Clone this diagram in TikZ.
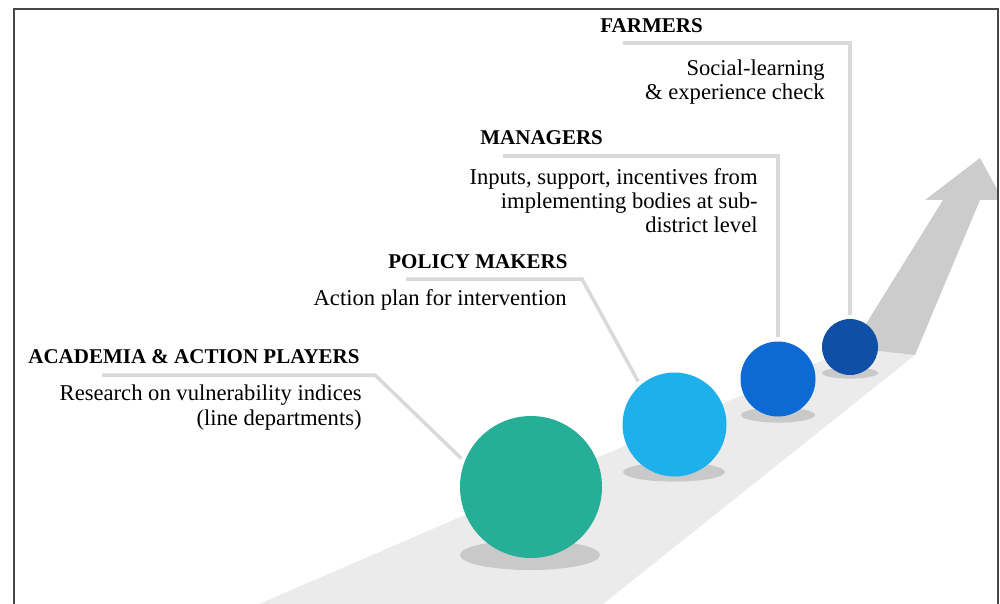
\documentclass[tikz,border=0pt]{standalone}
\usepackage{fontspec}
\setmainfont{Liberation Serif}
\definecolor{band}{RGB}{235,235,235}
\definecolor{arrowgray}{RGB}{204,204,204}
\definecolor{shadowgray}{RGB}{201,201,201}
\definecolor{linkgray}{RGB}{217,217,217}
\definecolor{framegray}{RGB}{70,70,70}
\definecolor{academia}{RGB}{39,174,150}
\definecolor{policy}{RGB}{29,176,234}
\definecolor{managers}{RGB}{11,106,212}
\definecolor{farmers}{RGB}{16,79,166}
\begin{document}
\begin{tikzpicture}[x=0.5pt,y=-0.5pt,
		ball/.style={circle,inner sep=0pt},
		link/.style={draw=linkgray,line width=1.75pt,shorten >=2pt},
		title/.style={font=\fontsize{10.5}{12.4}\selectfont\bfseries,inner sep=0pt,anchor=base west},
		desc/.style={font=\fontsize{11.3}{12.2}\selectfont,inner sep=0pt,align=right,anchor=base east}
		]
		\useasboundingbox (0,0) rectangle (1000,604);
		
		\fill[band] (259,604) -- (851,348) -- (915,355) -- (603,604) -- cycle;
		\begin{scope}
			\clip (14,9) rectangle (998,604);
			\fill[arrowgray] (851,348) -- (915,355) -- (980,200) -- (1003,200)
			-- (980,158) -- (925,200) -- (943,200) -- cycle;
		\end{scope}
		
		\fill[shadowgray] (530,555) ellipse [x radius=35pt, y radius=7.5pt];
		\fill[shadowgray] (674,472) ellipse [x radius=25.5pt, y radius=4.8pt];
		\fill[shadowgray] (778,415) ellipse [x radius=18.5pt, y radius=3.8pt];
		\fill[shadowgray] (850,373) ellipse [x radius=14pt, y radius=2.8pt];
		
		\node[ball,fill=academia,minimum size=71pt] (aball) at (531,487) {};
		\node[ball,fill=policy,minimum size=52pt] (pball) at (674.5,424.5) {};
		\node[ball,fill=managers,minimum size=37.5pt] (mball) at (778,379) {};
		\node[ball,fill=farmers,minimum size=28pt] (fball) at (850,347) {};
		
		\node[title] (atitle) at (28,363) {ACADEMIA \& ACTION PLAYERS};
		\node[desc] (adesc) at (362,425) {Research on vulnerability indices\\(line departments)};
		\node[title] (ptitle) at (388,268) {POLICY MAKERS};
		\node[desc] (pdesc) at (567,305) {Action plan for intervention};
		\node[title] (mtitle) at (480,145) {MANAGERS};
		\node[desc] (mdesc) at (758,233) {Inputs, support, incentives from\\implementing bodies at sub-\\district level};
		\node[title] (ftitle) at (600,33) {FARMERS};
		\node[desc] (fdesc) at (825,100) {Social-learning\\\& experience check};
		
		\coordinate (astart) at (102,375);
		\coordinate (abend) at (375,375);
		\coordinate (pstart) at (406,279);
		\coordinate (pbend) at (582,279);
		\coordinate (mstart) at (503,156);
		\coordinate (fstart) at (623,43);
		\draw[link] (astart) -- (abend) -- (aball.159);
		\draw[link] (pstart) -- (pbend) -- (pball.131);
		\draw[link] (mstart) -| (mball.north);
		\draw[link] (fstart) -| (fball.north);
		
		\draw[framegray,line width=0.6pt] (14,604) -- (14,9) -- (998,9) -- (998,604);
\end{tikzpicture}
\end{document}
